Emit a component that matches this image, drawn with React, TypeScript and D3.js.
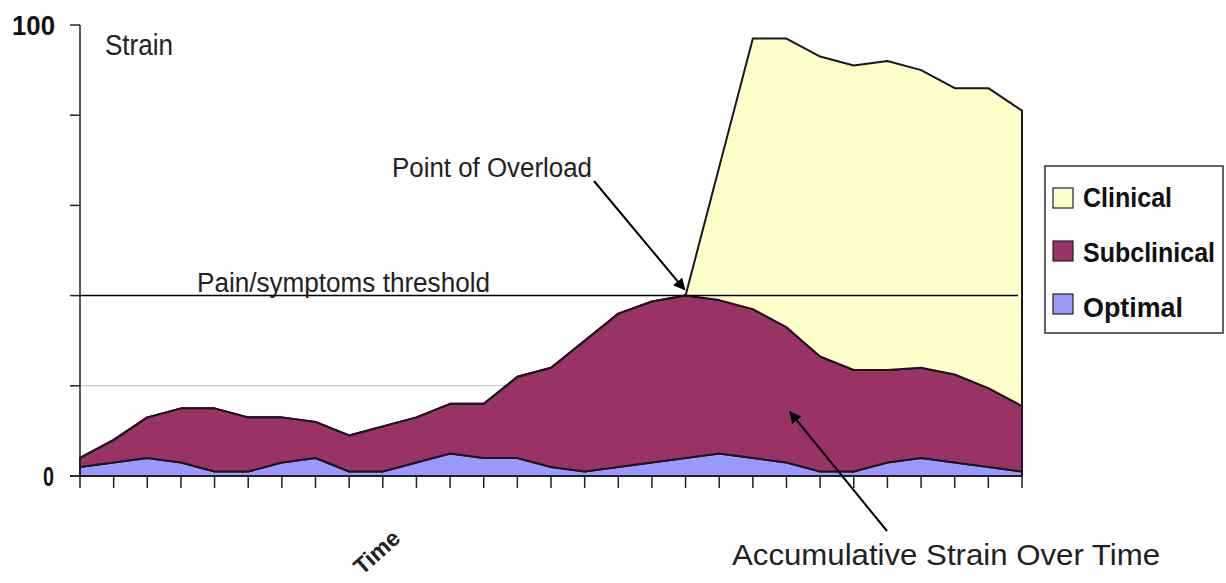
import React from "react";
import * as d3 from "d3";

const timeIndex: number[] = d3.range(29);
const optimal: number[] = [2, 3, 4, 3, 1, 1, 3, 4, 1, 1, 3, 5, 4, 4, 2, 1, 2, 3, 4, 5, 4, 3, 1, 1, 3, 4, 3, 2, 1];
const subclinical: number[] = [2, 5, 9, 12, 14, 12, 10, 8, 8, 10, 10, 11, 12, 18, 22, 29, 34, 35.7, 36, 34, 33, 30, 25.5, 22.5, 20.5, 20, 19.5, 17.5, 14.5];
const clinical: number[] = [0, 0, 0, 0, 0, 0, 0, 0, 0, 0, 0, 0, 0, 0, 0, 0, 0, 0, 0, 29.5, 60, 64, 66.5, 67.5, 68.5, 66, 63.5, 66.5, 65.5];
const seriesKeys = ["optimal", "subclinical", "clinical"];
const legendLabels = ["Clinical", "Subclinical", "Optimal"];
const legendKeys = ["clinical", "subclinical", "optimal"];
const yTickValues: number[] = [0, 20, 40, 60, 80, 100];
const yTickLabels: { v: number; label: string }[] = [
  { v: 100, label: "100" },
  { v: 0, label: "0" },
];
const thresholdValue = 40;
const gridValue = 20;
const overloadIndex = 18;

const colors: Record<string, string> = {
  optimal: "#9999FF",
  subclinical: "#993366",
  clinical: "#FFFFCC",
};

export default function App() {
  const W = 1226, H = 583;
  const x = d3.scaleLinear().domain([0, 28]).range([80, 1022]);
  const y = d3.scaleLinear().domain([0, 100]).range([476, 25]);

  const rows = timeIndex.map((i) => ({
    i,
    optimal: optimal[i],
    subclinical: subclinical[i],
    clinical: clinical[i],
  }));
  const stack = d3.stack<any>().keys(seriesKeys);
  const layers = stack(rows);
  const area = d3
    .area<any>()
    .x((d) => x(d.data.i))
    .y0((d) => y(d[0]))
    .y1((d) => y(d[1]));

  const font = "'Liberation Sans', Arial, sans-serif";
  const txt = "#222";
  const overX = x(overloadIndex);
  const overY = y(thresholdValue);

  return (
    <svg width={W} height={H} style={{ position: "absolute", left: 0, top: 0, background: "#fff" }}>
      <defs>
        <marker id="ah" viewBox="0 0 10 10" refX="9" refY="5" markerWidth="6" markerHeight="6" orient="auto-start-reverse">
          <path d="M0,0 L10,5 L0,10 z" fill="#000" />
        </marker>
      </defs>
      <rect width={W} height={H} fill="#fff" />
      {/* gridline */}
      <line x1={x(0)} x2={x(28)} y1={y(gridValue)} y2={y(gridValue)} stroke="#bdbdbd" strokeWidth={1} />
      {/* areas */}
      {layers.map((layer) => (
        <path
          key={layer.key}
          d={area(layer) as string}
          fill={colors[layer.key]}
          stroke="#1d1420"
          strokeWidth={2}
          strokeLinejoin="round"
        />
      ))}
      {/* threshold */}
      <line x1={x(0)} x2={1018} y1={y(thresholdValue)} y2={y(thresholdValue)} stroke="#000" strokeWidth={1.5} />
      {/* axes */}
      <line x1={x(0)} x2={x(0)} y1={y(100)} y2={y(0)} stroke="#222" strokeWidth={1.5} />
      <line x1={70} x2={x(28)} y1={y(0)} y2={y(0)} stroke="#222" strokeWidth={1.5} />
      {yTickValues.map((v) => (
        <line key={v} x1={70} x2={x(0)} y1={y(v)} y2={y(v)} stroke="#222" strokeWidth={1.5} />
      ))}
      {timeIndex.map((i) => (
        <line key={i} x1={x(i)} x2={x(i)} y1={y(0)} y2={y(0) + 12} stroke="#222" strokeWidth={1.5} />
      ))}
      {yTickLabels.map((t) => (
        <text
          key={t.label}
          x={t.v === 100 ? 12 : 43}
          y={y(t.v) + 10}
          fontFamily={font}
          fontWeight="bold"
          fontSize={28}
          textLength={t.v === 100 ? 43 : 11}
          lengthAdjust="spacingAndGlyphs"
          fill="#111"
        >
          {t.label}
        </text>
      ))}
      {/* texts */}
      <text x={105} y={55} fontFamily={font} fontSize={29} textLength={68} lengthAdjust="spacingAndGlyphs" fill={txt}>
        Strain
      </text>
      <text x={392} y={177} fontFamily={font} fontSize={27} textLength={200} lengthAdjust="spacingAndGlyphs" fill={txt}>
        Point of Overload
      </text>
      <text x={197} y={292} fontFamily={font} fontSize={27} textLength={293} lengthAdjust="spacingAndGlyphs" fill={txt}>
        Pain/symptoms threshold
      </text>
      <text x={732} y={565} fontFamily={font} fontSize={29} textLength={428} lengthAdjust="spacingAndGlyphs" fill={txt}>
        Accumulative Strain Over Time
      </text>
      <text
        x={0}
        y={0}
        transform="translate(382,558) rotate(-42)"
        textAnchor="middle"
        fontFamily={font}
        fontWeight="bold"
        fontSize={23}
        fill={txt}
      >
        Time
      </text>
      {/* arrows */}
      <line x1={594} y1={181} x2={overX - 1} y2={overY - 6} stroke="#000" strokeWidth={2} markerEnd="url(#ah)" />
      <line x1={887} y1={531} x2={790} y2={412} stroke="#000" strokeWidth={2} markerEnd="url(#ah)" />
      {/* legend */}
      <rect x={1045} y={166} width={178} height={167} fill="#fff" stroke="#333" strokeWidth={1.5} />
      {legendKeys.map((k, i) => (
        <g key={k}>
          <rect x={1053} y={188 + i * 53} width={20} height={20} fill={colors[k]} stroke="#222" strokeWidth={1.2} />
          <text
            x={1083}
            y={207 + i * 55}
            fontFamily={font}
            fontWeight="bold"
            fontSize={27}
            textLength={[89, 132, 100][i]}
            lengthAdjust="spacingAndGlyphs"
            fill="#111"
          >
            {legendLabels[i]}
          </text>
        </g>
      ))}
    </svg>
  );
}
